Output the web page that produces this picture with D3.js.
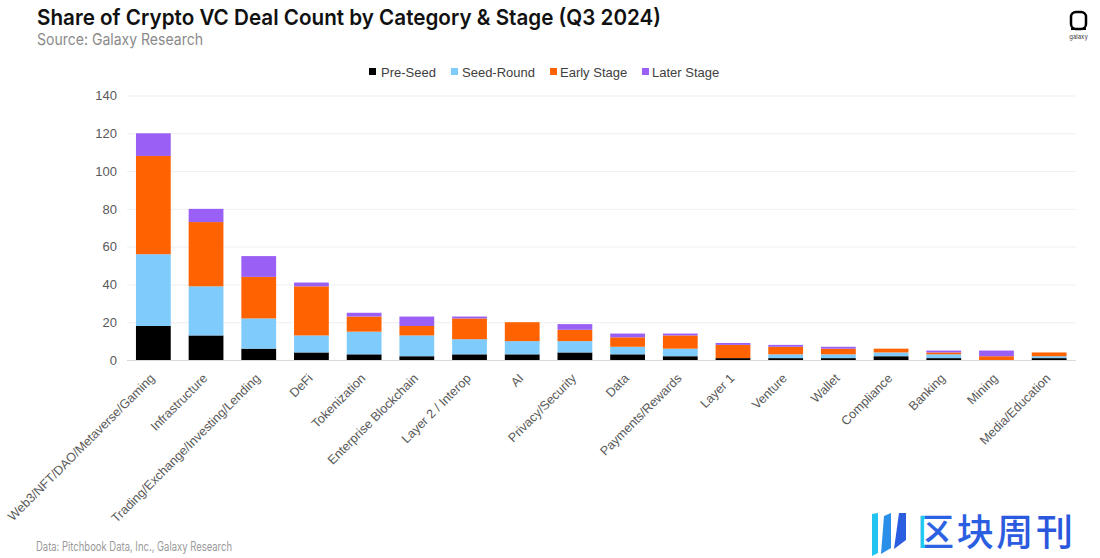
<!DOCTYPE html>
<html>
<head>
<meta charset="utf-8">
<script src="https://cdn.jsdelivr.net/npm/d3@7"></script>
<style>
  html, body { margin: 0; padding: 0; background: #ffffff; }
  svg { display: block; }
</style>
</head>
<body>
<svg id="chart" width="1100" height="558"></svg>
<script>
const categories = [
  "Web3/NFT/DAO/Metaverse/Gaming", "Infrastructure", "Trading/Exchange/Investing/Lending",
  "DeFi", "Tokenization", "Enterprise Blockchain", "Layer 2 / Interop", "AI",
  "Privacy/Security", "Data", "Payments/Rewards", "Layer 1", "Venture", "Wallet",
  "Compliance", "Banking", "Mining", "Media/Education"
];
const preSeed     = [18, 13,  6,  4,  3,  2,  3,  3, 4, 3, 2, 1, 1, 1, 2, 1, 0, 1];
const seedRound   = [38, 26, 16,  9, 12, 11,  8,  7, 6, 4, 4, 0, 2, 2, 2, 2, 0, 1];
const earlyStage  = [52, 34, 22, 26,  8,  5, 11, 10, 6, 5, 7, 7, 4, 3, 2, 1, 2, 2];
const laterStage  = [12,  7, 11,  2,  2,  5,  1,  0, 3, 2, 1, 1, 1, 1, 0, 1, 3, 0];
const seriesNames = ["Pre-Seed", "Seed-Round", "Early Stage", "Later Stage"];
const seriesColors = ["#000000", "#7fcbfb", "#ff6200", "#9a60f5"];
const yTicks = [0, 20, 40, 60, 80, 100, 120, 140];

const svg = d3.select("#chart");
const font = "'Liberation Sans', Arial, sans-serif";

// table built from the arrays
const seriesArrays = [preSeed, seedRound, earlyStage, laterStage];
const table = categories.map((c, i) => {
  const row = { category: c };
  seriesNames.forEach((s, k) => row[s] = seriesArrays[k][i]);
  return row;
});
const stacked = d3.stack().keys(seriesNames)(table);

const x = d3.scaleBand().domain(categories).range([127, 1075.5]).paddingInner(0.34).paddingOuter(0.17);
const y = d3.scaleLinear().domain([0, 140]).range([360, 95.5]);

// gridlines
const grid = svg.append("g").attr("transform", "translate(127,0)")
  .call(d3.axisLeft(y).tickValues(yTicks).tickSize(-(1075.5 - 127)).tickFormat(""));
grid.select(".domain").remove();
grid.selectAll(".tick line").attr("stroke", "#efefef").attr("stroke-width", 1);

// y axis labels
const yAxis = svg.append("g").attr("transform", "translate(117,0)")
  .call(d3.axisLeft(y).tickValues(yTicks).tickSize(0).tickPadding(0));
yAxis.select(".domain").remove();
yAxis.selectAll("text").attr("font-family", font).attr("font-size", 13).attr("fill", "#595959");

// bars
svg.append("g").selectAll("g").data(stacked).join("g")
  .attr("fill", (d, i) => seriesColors[i])
  .selectAll("rect").data(d => d).join("rect")
  .attr("x", d => x(d.data.category))
  .attr("width", x.bandwidth())
  .attr("y", d => y(d[1]))
  .attr("height", d => y(d[0]) - y(d[1]));

// x axis
const xAxis = svg.append("g").attr("transform", "translate(0,360)")
  .call(d3.axisBottom(x).tickSize(0).tickPadding(0));
xAxis.select(".domain").attr("stroke", "#d9d9d9").attr("d", "M127,0.5H1075.5");
xAxis.selectAll("text")
  .attr("font-family", font).attr("font-size", 12.6).attr("fill", "#595959")
  .attr("text-anchor", "end").attr("x", 0).attr("y", 0).attr("dy", "0.35em")
  .attr("transform", "translate(-1,16) rotate(-45)");

// legend
const legendItems = [
  { name: seriesNames[0], sx: 369, tx: 381 },
  { name: seriesNames[1], sx: 451, tx: 462 },
  { name: seriesNames[2], sx: 550, tx: 560 },
  { name: seriesNames[3], sx: 642, tx: 652 }
];
const lg = svg.append("g");
legendItems.forEach((it, i) => {
  lg.append("rect").attr("x", it.sx).attr("y", 68).attr("width", 7).attr("height", 7).attr("fill", seriesColors[i]);
  lg.append("text").attr("x", it.tx).attr("y", 77).attr("font-family", font).attr("font-size", 13)
    .attr("fill", "#404040").text(it.name);
});

// titles
svg.append("text").attr("x", 37).attr("y", 25)
  .attr("font-family", "Inter, 'Noto Sans', sans-serif").attr("font-weight", 600).attr("font-size", 22)
  .attr("fill", "#111").attr("textLength", 624).attr("lengthAdjust", "spacingAndGlyphs")
  .text("Share of Crypto VC Deal Count by Category & Stage (Q3 2024)");
svg.append("text").attr("x", 37).attr("y", 45)
  .attr("font-family", "Inter, 'Noto Sans', sans-serif").attr("font-size", 16)
  .attr("fill", "#8a8a8a").attr("textLength", 166).attr("lengthAdjust", "spacingAndGlyphs")
  .text("Source: Galaxy Research");
svg.append("text").attr("x", 36).attr("y", 551)
  .attr("font-family", "Inter, 'Noto Sans', sans-serif").attr("font-size", 12.5)
  .attr("fill", "#9a9a9a").attr("textLength", 196).attr("lengthAdjust", "spacingAndGlyphs")
  .text("Data: Pitchbook Data, Inc., Galaxy Research");

// galaxy logo
const logo = svg.append("g");
logo.append("rect").attr("x", 1071).attr("y", 12).attr("width", 15).attr("height", 17).attr("rx", 5)
  .attr("fill", "none").attr("stroke", "#000").attr("stroke-width", 2.5);
logo.append("line").attr("x1", 1071).attr("x2", 1086).attr("y1", 29).attr("y2", 29).attr("stroke", "#000").attr("stroke-width", 2);
logo.append("text").attr("x", 1078.5).attr("y", 39).attr("text-anchor", "middle")
  .attr("font-family", "Inter, sans-serif").attr("font-size", 6).attr("fill", "#333").text("galaxy");

// watermark
const wm = svg.append("g");
const grad = svg.append("defs").append("linearGradient").attr("id", "wmg")
  .attr("gradientUnits", "userSpaceOnUse").attr("x1", 918).attr("x2", 1075).attr("y1", 0).attr("y2", 0);
grad.append("stop").attr("offset", "0%").attr("stop-color", "#1ec8f0");
grad.append("stop").attr("offset", "4%").attr("stop-color", "#1ec8f0");
grad.append("stop").attr("offset", "5%").attr("stop-color", "#2b63e3");
grad.append("stop").attr("offset", "100%").attr("stop-color", "#2a55dc");
wm.append("path").attr("d", "M872,514 L878,513 L878,553 L872,556 Z").attr("fill", "#22c3ef");
wm.append("path").attr("d", "M884,516 L891,513 L891,548 L881,554 Z").attr("fill", "#2a8fe8");
wm.append("path").attr("d", "M899,513 L906,513 L906,540 L894,549 Z").attr("fill", "#2a5de0");
wm.append("text").attr("x", 917).attr("y", 546)
  .attr("font-family", "'Noto Sans CJK SC', sans-serif").attr("font-weight", 500).attr("font-size", 37)
  .attr("fill", "url(#wmg)").attr("textLength", 156).attr("lengthAdjust", "spacing").text("区块周刊");
</script>
</body>
</html>
